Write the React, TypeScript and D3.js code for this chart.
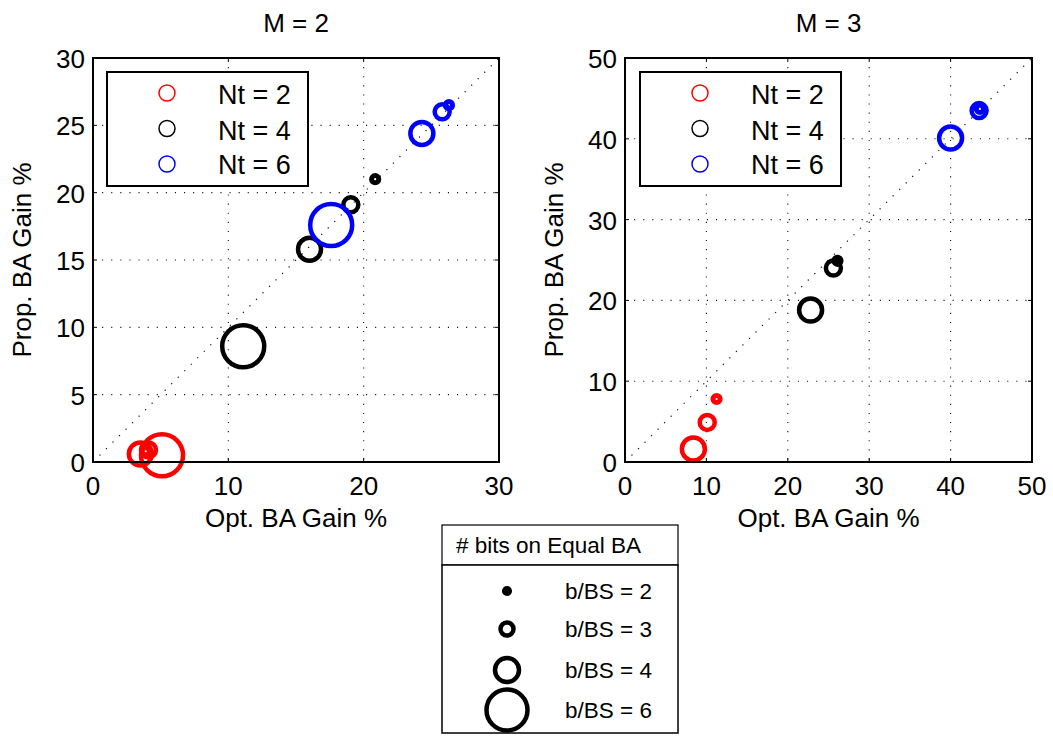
import React from "react";
import * as d3 from "d3";

// ---- data ----
const bitLevels = [2, 3, 4, 6];
const ntLabels = ["Nt = 2", "Nt = 4", "Nt = 6"];
const ntColors = ["#ff0000", "#000000", "#0000ff"];

// M = 2 (order of values: b/BS = 2, 3, 4, 6)
const m2Nt2Opt = [3.9, 4.1, 3.5, 5.1];
const m2Nt2Prop = [0.8, 0.9, 0.6, 0.5];
const m2Nt4Opt = [20.85, 19.05, 16.0, 11.1];
const m2Nt4Prop = [21.0, 19.1, 15.8, 8.6];
const m2Nt6Opt = [26.3, 25.8, 24.3, 17.6];
const m2Nt6Prop = [26.5, 26.0, 24.4, 17.6];

// M = 3 (null = not shown)
const m3Nt2Opt = [11.25, 10.1, 8.4, null];
const m3Nt2Prop = [7.8, 4.9, 1.6, null];
const m3Nt4Opt = [26.1, 25.6, 22.8, null];
const m3Nt4Prop = [24.9, 24.0, 18.8, null];
const m3Nt6Opt = [43.6, 43.5, 40.0, null];
const m3Nt6Prop = [43.7, 43.5, 40.1, null];

const m2Ticks = [0, 5, 10, 15, 20, 25, 30];
const m2XTicks = [0, 10, 20, 30];
const m3Ticks = [0, 10, 20, 30, 40, 50];

const bitRadius: Record<number, number> = { 2: 3.6, 3: 7.5, 4: 11.5, 6: 21 };
const legendBitRadius: Record<number, number> = { 2: 2.8, 3: 6.5, 4: 12, 6: 20.5 };

const FONT = "Liberation Sans, Arial, Helvetica, sans-serif";

type Panel = {
  title: string;
  left: number;
  right: number;
  max: number;
  xTicks: number[];
  yTicks: number[];
  series: { opt: (number | null)[]; prop: (number | null)[] }[];
  legendX: number;
};

const panels: Panel[] = [
  {
    title: "M = 2",
    left: 93,
    right: 499,
    max: 30,
    xTicks: m2XTicks,
    yTicks: m2Ticks,
    series: [
      { opt: m2Nt2Opt, prop: m2Nt2Prop },
      { opt: m2Nt4Opt, prop: m2Nt4Prop },
      { opt: m2Nt6Opt, prop: m2Nt6Prop },
    ],
    legendX: 107,
  },
  {
    title: "M = 3",
    left: 625,
    right: 1032,
    max: 50,
    xTicks: m3Ticks,
    yTicks: m3Ticks,
    series: [
      { opt: m3Nt2Opt, prop: m3Nt2Prop },
      { opt: m3Nt4Opt, prop: m3Nt4Prop },
      { opt: m3Nt6Opt, prop: m3Nt6Prop },
    ],
    legendX: 640,
  },
];

const TOP = 58;
const BOTTOM = 462;
const STROKE = 4.5;

function PanelView({ p }: { p: Panel }) {
  const x = d3.scaleLinear().domain([0, p.max]).range([p.left, p.right]);
  const y = d3.scaleLinear().domain([0, p.max]).range([BOTTOM, TOP]);
  const cx = (p.left + p.right) / 2;
  const cy = (TOP + BOTTOM) / 2;
  const diag = d3.line<number>().x((d) => x(d)).y((d) => y(d));
  const legRowsMarker = [93, 128.5, 164];
  const legRowsText = [104, 139.5, 174];
  return (
    <g>
      {/* grid */}
      {p.xTicks.slice(1, -1).map((t) => (
        <line key={"gx" + t} x1={x(t)} x2={x(t)} y1={TOP} y2={BOTTOM}
          stroke="#111" strokeWidth={1.1} strokeDasharray="1.1 8" />
      ))}
      {p.yTicks.slice(1, -1).map((t) => (
        <line key={"gy" + t} x1={p.left} x2={p.right} y1={y(t)} y2={y(t)}
          stroke="#111" strokeWidth={1.1} strokeDasharray="1.1 8" />
      ))}
      {/* diagonal */}
      <path d={diag([0, p.max]) || ""} stroke="#111" strokeWidth={1.2}
        strokeDasharray="1.2 8" fill="none" />
      {/* ticks */}
      {p.xTicks.map((t) => (
        <g key={"tx" + t}>
          <line x1={x(t)} x2={x(t)} y1={BOTTOM} y2={BOTTOM - 4} stroke="#000" />
          <line x1={x(t)} x2={x(t)} y1={TOP} y2={TOP + 4} stroke="#000" />
          <text x={x(t)} y={BOTTOM + 33} textAnchor="middle" fontSize={26}
            fontFamily={FONT}>{t}</text>
        </g>
      ))}
      {p.yTicks.map((t) => (
        <g key={"ty" + t}>
          <line x1={p.left} x2={p.left + 4} y1={y(t)} y2={y(t)} stroke="#000" />
          <line x1={p.right} x2={p.right - 4} y1={y(t)} y2={y(t)} stroke="#000" />
          <text x={p.left - 8} y={y(t) + 10} textAnchor="end" fontSize={26}
            fontFamily={FONT}>{t}</text>
        </g>
      ))}
      {/* points */}
      {p.series.map((s, si) =>
        bitLevels.map((b, bi) => {
          const ox = s.opt[bi];
          const oy = s.prop[bi];
          if (ox == null || oy == null) return null;
          return (
            <circle key={"c" + si + "-" + b} cx={x(ox)} cy={y(oy)} r={bitRadius[b]}
              fill="none" stroke={ntColors[si]} strokeWidth={b === 2 ? 5 : STROKE} />
          );
        })
      )}
      {/* axes box */}
      <rect x={p.left} y={TOP} width={p.right - p.left} height={BOTTOM - TOP}
        fill="none" stroke="#000" strokeWidth={2} />
      {/* labels */}
      <text x={cx} y={32} textAnchor="middle" fontSize={26} fontFamily={FONT}>{p.title}</text>
      <text x={cx} y={527} textAnchor="middle" fontSize={26} fontFamily={FONT}>Opt. BA Gain %</text>
      <text transform={`translate(${p.left - 62},${cy}) rotate(-90)`} textAnchor="middle"
        fontSize={26} fontFamily={FONT}>Prop. BA Gain %</text>
      {/* Nt legend */}
      <rect x={p.legendX} y={72} width={201} height={114} fill="#fff" stroke="#000" strokeWidth={2} />
      {ntLabels.map((l, i) => (
        <g key={"lg" + i}>
          <circle cx={p.legendX + 60} cy={legRowsMarker[i]} r={8} fill="none"
            stroke={ntColors[i]} strokeWidth={1.5} />
          <text x={p.legendX + 111} y={legRowsText[i]} fontSize={27} fontFamily={FONT}>{l}</text>
        </g>
      ))}
    </g>
  );
}

const bitLabels = bitLevels.map((b) => `b/BS = ${b}`);
const bitRowY = [591, 629, 670, 710];

export default function App() {
  return (
    <svg width={1053} height={736} style={{ position: "absolute", left: 0, top: 0, background: "#fff" }}>
      <rect x={0} y={0} width={1053} height={736} fill="#fff" />
      {panels.map((p) => (
        <PanelView key={p.title} p={p} />
      ))}
      {/* size legend */}
      <rect x={442} y={525} width={236} height={40} fill="#fff" stroke="#000" strokeWidth={1.2} />
      <text x={456} y={553} fontSize={22.5} fontFamily={FONT}># bits on Equal BA</text>
      <rect x={442} y={565} width={236} height={168} fill="#fff" stroke="#000" strokeWidth={1.5} />
      {bitLevels.map((b, i) => (
        <g key={"bl" + b}>
          <circle cx={507} cy={bitRowY[i]} r={legendBitRadius[b]}
            fill={b === 2 ? "#000" : "none"} stroke="#000" strokeWidth={STROKE} />
          <text x={565} y={bitRowY[i] + 7.5} fontSize={22.5} fontFamily={FONT}>{bitLabels[i]}</text>
        </g>
      ))}
    </svg>
  );
}
